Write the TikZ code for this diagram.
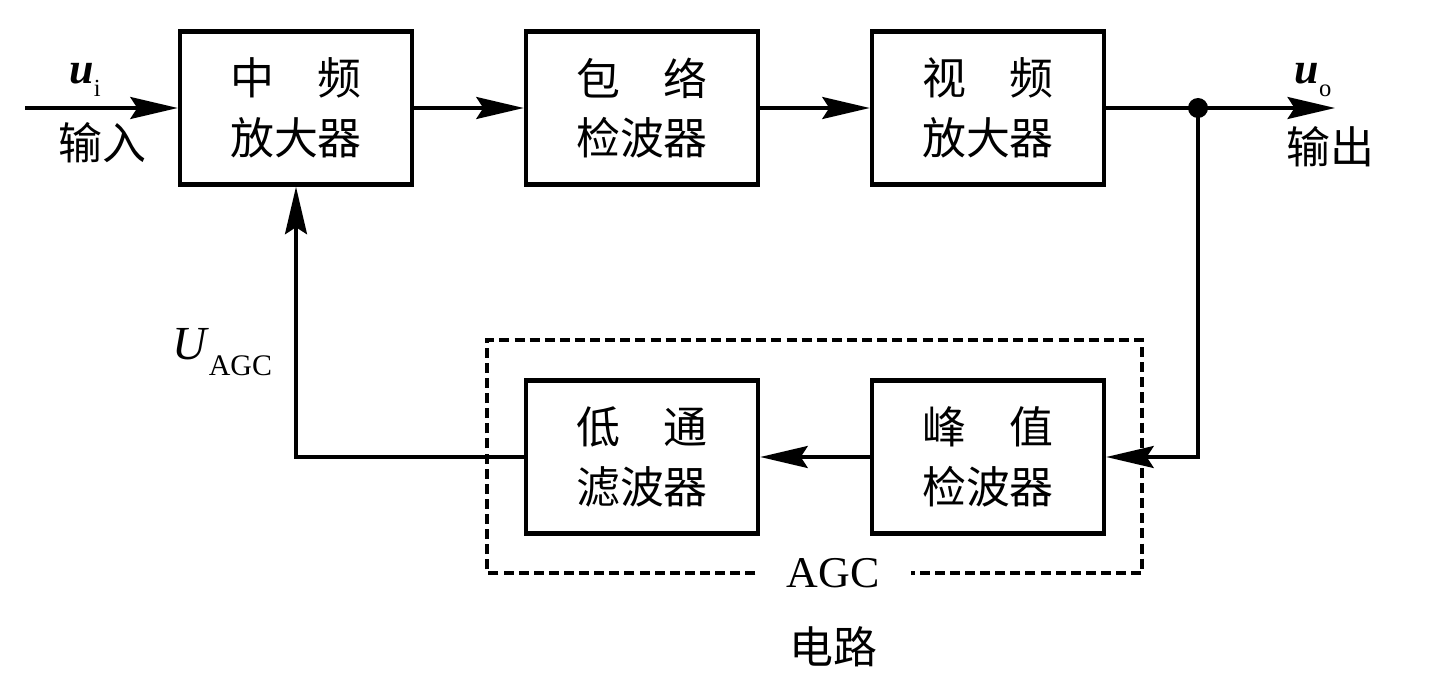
\documentclass[tikz,border=0pt]{standalone}
\usepackage{fontspec}
\setmainfont{Liberation Serif}
\newfontfamily\cjk{Noto Sans CJK SC}
\usetikzlibrary{arrows.meta}
\newcommand\twochars[2]{\makebox[3em][s]{#1\hfill#2}}
\begin{document}
\begin{tikzpicture}[x=0.02cm,y=-0.02cm,
  blk/.style={draw, line width=2.6pt, minimum width=4.64cm, minimum height=3.06cm,
    align=center, font=\cjk\fontsize{25}{34}\selectfont, inner sep=0pt},
  conn/.style={line width=1.8pt},
  arr/.style={conn, -{Stealth[length=0.95cm,width=0.44cm,inset=0.14cm]}},
  lbl/.style={font=\cjk\fontsize{25}{30}\selectfont, inner sep=0pt},
  sym/.style={inner sep=0pt, font=\fontsize{25}{30}\selectfont},
  agcbox/.style={line width=2pt, dash pattern=on 5.7pt off 2.9pt},
]
\useasboundingbox (0,0) rectangle (1434,689);

% blocks
\node[blk] (b1) at (296,108) {\twochars{中}{频}\\放大器};
\node[blk] (b2) at (642,108) {\twochars{包}{络}\\检波器};
\node[blk] (b3) at (988,108) {\twochars{视}{频}\\放大器};
\node[blk] (b4) at (642,457) {\twochars{低}{通}\\滤波器};
\node[blk] (b5) at (988,457) {\twochars{峰}{值}\\检波器};

% coordinates
\coordinate (in) at (25,108);
\coordinate (out) at (1335,108);
\coordinate (dot) at (1198,108);

% forward path
\draw[arr] (in) -- (b1.west);
\draw[arr] (b1.east) -- (b2.west);
\draw[arr] (b2.east) -- (b3.west);
\draw[arr] (b3.east) -- (out);
\fill (dot) circle[radius=0.2cm];

% feedback path
\draw[arr] (dot) |- (b5.east);
\draw[arr] (b5.west) -- (b4.east);
\draw[arr] (b4.west) -| (b1.south);

% AGC dashed box
\node[sym, inner xsep=0.62cm, inner ysep=0pt] (agc) at (833,573) {AGC};
\draw[agcbox] (agc.west) -| (487,340) -| (1142,573) -- (agc.east);
\node[lbl] (agcl) at (833,647) {电路};

% labels
\node[sym] (ui) at (85,80) {\textbf{\textit{u}}\raisebox{-0.3em}{\fontsize{14}{16}\selectfont i}};
\node[lbl] (inl) at (102,143) {输入};
\node[sym] (uo) at (1313,80) {\textbf{\textit{u}}\raisebox{-0.3em}{\fontsize{14}{16}\selectfont o}};
\node[lbl] (outl) at (1330,147) {输出};
\node[sym, font=\fontsize{27}{30}\selectfont] (uagc) at (222,352) {\textit{U}\raisebox{-0.35em}{\fontsize{17}{20}\selectfont AGC}};
\end{tikzpicture}
\end{document}
